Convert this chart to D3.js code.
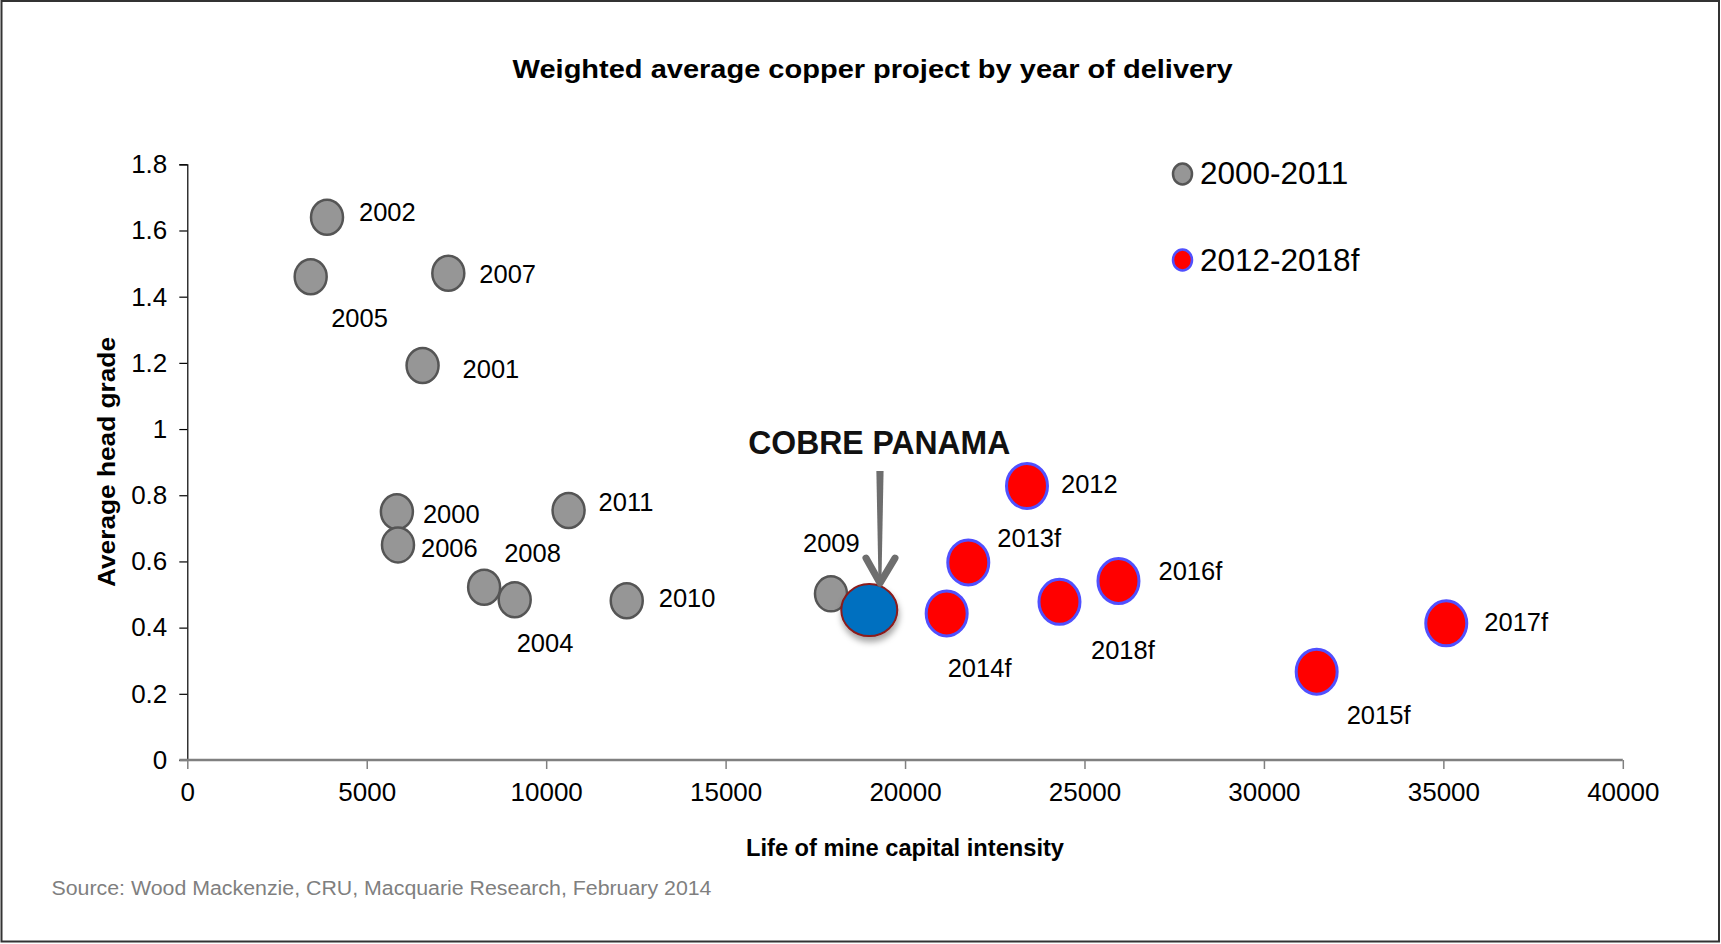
<!DOCTYPE html>
<html>
<head>
<meta charset="utf-8">
<script src="https://cdn.jsdelivr.net/npm/d3@7"></script>
<style>
  body { margin: 0; background: #fff; }
  svg { display: block; }
  text { font-family: "Liberation Sans", Arial, Helvetica, sans-serif; }
</style>
</head>
<body>
<svg id="chart" width="1721" height="944"></svg>
<script>
// ---------------- DATA ----------------
const chartTitle = "Weighted average copper project by year of delivery";
const xTitle = "Life of mine capital intensity";
const yTitle = "Average head grade";
const sourceNote = "Source: Wood Mackenzie, CRU, Macquarie Research, February 2014";

const earlyYears = ["2000", "2001", "2002", "2004", "2005", "2006", "2007", "2008", "2009", "2010", "2011"];
const earlyCapex = [5840, 6556, 3893, 9123, 3438, 5871, 7273, 8271, 17936, 12245, 10624];
const earlyGrade = [0.750, 1.192, 1.640, 0.484, 1.460, 0.650, 1.471, 0.522, 0.502, 0.481, 0.754];

const lateYears = ["2012", "2013f", "2014f", "2015f", "2016f", "2017f", "2018f"];
const lateCapex = [23398, 21762, 21160, 31470, 25947, 35081, 24303];
const lateGrade = [0.828, 0.597, 0.443, 0.267, 0.541, 0.413, 0.478];

const cobreName = "COBRE PANAMA";
const cobreCapex = 19003;
const cobreGrade = 0.453;

const legendLabels = ["2000-2011", "2012-2018f"];
const xTicks = [0, 5000, 10000, 15000, 20000, 25000, 30000, 35000, 40000];
const yTicks = [0, 0.2, 0.4, 0.6, 0.8, 1, 1.2, 1.4, 1.6, 1.8];

// ---------------- LAYOUT (label placement, px offsets from marker centre) ----------------
const labelOffsets = {
  "2000": [26, 11], "2001": [40, 12.6], "2002": [32, 3.4], "2004": [2, 51.7],
  "2005": [20.5, 50], "2006": [23, 12], "2007": [31, 9.4], "2008": [20, -25.6],
  "2009": [-28, -42], "2010": [32, 6.6], "2011": [30, 0.6],
  "2012": [34, 6.7], "2013f": [29, -15.6], "2014f": [1, 64], "2015f": [30, 52],
  "2016f": [40, -1], "2017f": [38, 7.7], "2018f": [31.5, 57]
};

const W = 1721, H = 944;
const plot = { left: 187.3, right: 1622.8, top: 164.3, bottom: 760 };

const svg = d3.select("#chart");

const defs = svg.append("defs");
const f = defs.append("filter").attr("id", "shadow").attr("x", "-50%").attr("y", "-50%").attr("width", "200%").attr("height", "200%");
f.append("feDropShadow").attr("dx", 1).attr("dy", 5).attr("stdDeviation", 3).attr("flood-color", "#000").attr("flood-opacity", 0.35);

// frame
svg.append("rect").attr("x", 1.5).attr("y", 1).attr("width", W - 3.5).attr("height", H - 3.5)
  .attr("fill", "#fff").attr("stroke", "#333").attr("stroke-width", 2);

const x = d3.scaleLinear().domain([0, 40000]).range([plot.left, plot.right]);
const y = d3.scaleLinear().domain([0, 1.8]).range([plot.bottom, plot.top]);

// title
svg.append("text").attr("x", 872.6).attr("y", 78.3)
  .attr("text-anchor", "middle").attr("font-weight", "bold").attr("font-size", 26.5)
  .attr("textLength", 720).attr("lengthAdjust", "spacingAndGlyphs")
  .text(chartTitle);

// y axis
const yAxis = d3.axisLeft(y).tickValues(yTicks).tickSize(8).tickPadding(12)
  .tickFormat(d => String(Math.round(d * 10) / 10));
const gy = svg.append("g").attr("transform", `translate(${plot.left},0)`).call(yAxis);
gy.select(".domain").attr("stroke", "#000").attr("stroke-width", 1.2);
gy.selectAll(".tick line").attr("stroke", "#000").attr("stroke-width", 1.2);
gy.selectAll(".tick text").attr("font-size", 26).attr("fill", "#000")
  .attr("font-family", '"Liberation Sans", Arial, sans-serif');

// x axis
const xAxis = d3.axisBottom(x).tickValues(xTicks).tickSize(9).tickPadding(14)
  .tickFormat(d => String(d));
const gx = svg.append("g").attr("transform", `translate(0,${plot.bottom})`).call(xAxis);
gx.select(".domain").remove();
gx.append("line").attr("x1", plot.left - 8).attr("x2", plot.right).attr("y1", 0).attr("y2", 0)
  .attr("stroke", "#808080").attr("stroke-width", 2.5);
gx.selectAll(".tick line").attr("stroke", "#808080").attr("stroke-width", 1.5);
gx.selectAll(".tick text").attr("font-size", 26).attr("fill", "#000")
  .attr("font-family", '"Liberation Sans", Arial, sans-serif');

// axis titles
svg.append("text").attr("x", 905).attr("y", 856)
  .attr("text-anchor", "middle").attr("font-weight", "bold").attr("font-size", 23)
  .attr("textLength", 318).attr("lengthAdjust", "spacingAndGlyphs")
  .text(xTitle);
svg.append("text").attr("transform", "translate(114.5,462) rotate(-90)")
  .attr("text-anchor", "middle").attr("font-weight", "bold").attr("font-size", 23)
  .attr("textLength", 250).attr("lengthAdjust", "spacingAndGlyphs")
  .text(yTitle);

// source
svg.append("text").attr("x", 51.5).attr("y", 894.5)
  .attr("font-size", 20).attr("fill", "#7f7f7f")
  .attr("textLength", 660).attr("lengthAdjust", "spacingAndGlyphs")
  .text(sourceNote);

// data
const early = earlyYears.map((yr, i) => ({ yr, cx: earlyCapex[i], g: earlyGrade[i] }));
const late = lateYears.map((yr, i) => ({ yr, cx: lateCapex[i], g: lateGrade[i] }));

const gEarly = svg.append("g");
gEarly.selectAll("ellipse").data(early).join("ellipse")
  .attr("cx", d => x(d.cx)).attr("cy", d => y(d.g))
  .attr("rx", 16).attr("ry", 17.5)
  .attr("fill", "#969696").attr("stroke", "#555").attr("stroke-width", 2.5);

const gLate = svg.append("g");
gLate.selectAll("ellipse").data(late).join("ellipse")
  .attr("cx", d => x(d.cx)).attr("cy", d => y(d.g))
  .attr("rx", 20.5).attr("ry", 22.5)
  .attr("fill", "#ff0000").attr("stroke", "#5050ff").attr("stroke-width", 3);

// cobre panama
const cX = x(cobreCapex), cY = y(cobreGrade);
svg.append("ellipse").attr("cx", cX).attr("cy", cY).attr("rx", 28).attr("ry", 26)
  .attr("fill", "#0070c0").attr("stroke", "#8b1a1a").attr("stroke-width", 2)
  .attr("filter", "url(#shadow)");

// labels
const allPts = early.concat(late);
svg.append("g").selectAll("text").data(allPts).join("text")
  .attr("x", d => x(d.cx) + labelOffsets[d.yr][0])
  .attr("y", d => y(d.g) + labelOffsets[d.yr][1])
  .attr("font-size", 25.5).attr("fill", "#000")
  .text(d => d.yr);

// arrow annotation
const arrowColor = "#6e6e6e";
const tipX = cX + 10.7, tipY = cY - 25;
svg.append("path")
  .attr("d", `M${tipX + 3.6},${cY - 139} L${tipX + 1.5},${tipY - 4} L${tipX - 1.5},${tipY - 4} L${tipX - 3.6},${cY - 139} Z`)
  .attr("fill", arrowColor);
svg.append("path")
  .attr("d", `M${tipX - 14},${tipY - 27} L${tipX},${tipY - 2} L${tipX + 15},${tipY - 27}`)
  .attr("fill", "none").attr("stroke", arrowColor).attr("stroke-width", 7)
  .attr("stroke-linecap", "round").attr("stroke-linejoin", "round");
svg.append("text").attr("x", cX + 10).attr("y", cY - 156)
  .attr("text-anchor", "middle").attr("font-weight", "bold").attr("font-size", 33)
  .attr("fill", "#111")
  .attr("textLength", 262).attr("lengthAdjust", "spacingAndGlyphs")
  .text(cobreName);

// legend
const legendStyles = [
  { fill: "#969696", stroke: "#555", sw: 2.5, cy: 174, base: 184 },
  { fill: "#ff0000", stroke: "#5050ff", sw: 2.5, cy: 260, base: 270.5 }
];
const gl = svg.append("g");
legendLabels.forEach((lab, i) => {
  const s = legendStyles[i];
  gl.append("ellipse").attr("cx", 1182.5).attr("cy", s.cy).attr("rx", 9.5).attr("ry", 10.5)
    .attr("fill", s.fill).attr("stroke", s.stroke).attr("stroke-width", s.sw);
  gl.append("text").attr("x", 1200).attr("y", s.base).attr("font-size", 31.5).attr("fill", "#000").text(lab);
});
</script>
</body>
</html>
